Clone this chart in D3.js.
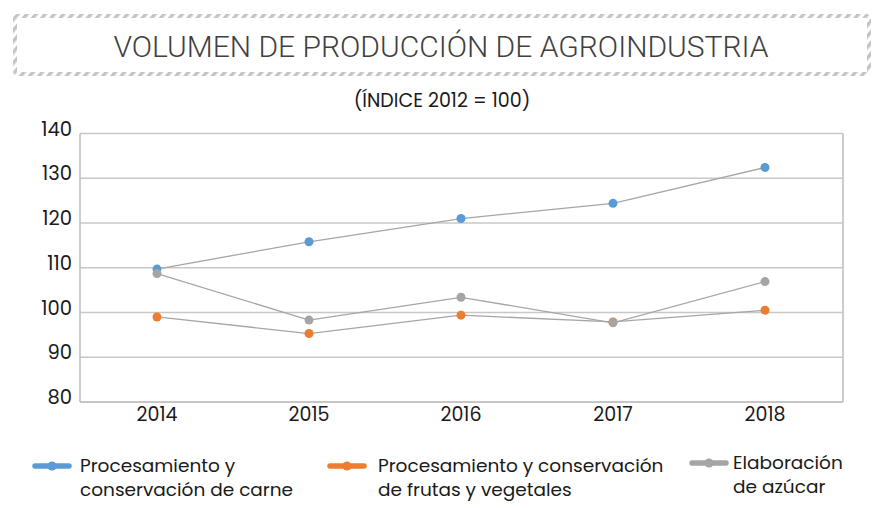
<!DOCTYPE html>
<html>
<head>
<meta charset="utf-8">
<style>
  body { margin: 0; background: #fff; }
  text { font-family: "Poppins", "Inter", "Lato", sans-serif; fill: #1a1a1a; }
  .title { font-family: "Roboto", "Lato", sans-serif; font-weight: 300; fill: #404040; }
</style>
<script src="https://d3js.org/d3.v7.min.js"></script>
</head>
<body>
<svg width="882" height="508"></svg>
<script>
var years = ["2014", "2015", "2016", "2017", "2018"];
var carne = [109.7, 115.8, 121.0, 124.4, 132.4];
var frutas = [99.0, 95.3, 99.4, 97.9, 100.5];
var azucar = [108.7, 98.3, 103.4, 97.7, 106.9];
var yTicks = [80, 90, 100, 110, 120, 130, 140];

var series = [
  {name: ["Procesamiento y", "conservación de carne"], values: carne, color: "#5b9bd5"},
  {name: ["Procesamiento y conservación", "de frutas y vegetales"], values: frutas, color: "#ed7d31"},
  {name: ["Elaboración", "de azúcar"], values: azucar, color: "#a5a5a5"}
];

var svg = d3.select("svg");

// hatched title frame
var defs = svg.append("defs");
var pat = defs.append("pattern")
    .attr("id", "hatch")
    .attr("patternUnits", "userSpaceOnUse")
    .attr("width", 7).attr("height", 7)
    .attr("patternTransform", "rotate(40)");
pat.append("rect").attr("width", 3.5).attr("height", 7).attr("fill", "#c4c4c4");

svg.append("rect")
    .attr("x", 15).attr("y", 16)
    .attr("width", 854).attr("height", 58)
    .attr("rx", 3)
    .attr("fill", "none")
    .attr("stroke", "url(#hatch)")
    .attr("stroke-width", 4);

svg.append("text")
    .attr("class", "title")
    .attr("x", 441).attr("y", 57)
    .attr("text-anchor", "middle")
    .style("font-size", "30px")
    .text("VOLUMEN DE PRODUCCIÓN DE AGROINDUSTRIA");

svg.append("text")
    .attr("x", 442).attr("y", 107)
    .attr("text-anchor", "middle")
    .style("font-size", "19px")
    .text("(ÍNDICE 2012 = 100)");

var x = d3.scalePoint().domain(years).range([81, 841]).padding(0.5);
var y = d3.scaleLinear().domain([80, 140]).range([402, 133.5]);

var g = svg.append("g");

// gridlines
g.selectAll(".grid")
    .data(yTicks)
    .enter().append("line")
    .attr("x1", 80).attr("x2", 843)
    .attr("y1", function(d) { return y(d); })
    .attr("y2", function(d) { return y(d); })
    .attr("stroke", "#c8c8c8")
    .attr("stroke-width", 1.3);

// frame sides
g.append("line").attr("x1", 80).attr("x2", 80).attr("y1", y(140)).attr("y2", y(80))
    .attr("stroke", "#c0c0c0").attr("stroke-width", 1.6);
g.append("line").attr("x1", 843).attr("x2", 843).attr("y1", y(140)).attr("y2", y(80))
    .attr("stroke", "#c0c0c0").attr("stroke-width", 1.6);
g.append("line").attr("x1", 80).attr("x2", 843).attr("y1", y(80)).attr("y2", y(80))
    .attr("stroke", "#c0c0c0").attr("stroke-width", 1.6);

// y labels
g.selectAll(".ylab")
    .data(yTicks)
    .enter().append("text")
    .attr("x", 72)
    .attr("y", function(d) { return y(d) + 2; })
    .attr("text-anchor", "end")
    .style("font-size", "19.5px")
    .text(function(d) { return d; });

// x labels
g.selectAll(".xlab")
    .data(years)
    .enter().append("text")
    .attr("x", function(d) { return x(d); })
    .attr("y", 421)
    .attr("text-anchor", "middle")
    .style("font-size", "19px")
    .text(function(d) { return d; });

var line = d3.line()
    .x(function(d, i) { return x(years[i]); })
    .y(function(d) { return y(d); });

series.forEach(function(s) {
  g.append("path")
      .datum(s.values)
      .attr("d", line)
      .attr("fill", "none")
      .attr("stroke", "#a6a6a6")
      .attr("stroke-width", 1.3);
});

// markers: blue, orange, then gray on top
series.forEach(function(s) {
  g.selectAll(null)
      .data(s.values)
      .enter().append("circle")
      .attr("cx", function(d, i) { return x(years[i]); })
      .attr("cy", function(d) { return y(d); })
      .attr("r", 4.5)
      .attr("fill", s.color);
});

// legend
var legX = [35, 330, 692];
var legY = [466, 466, 463];
series.forEach(function(s, i) {
  var lg = svg.append("g").attr("transform", "translate(" + legX[i] + "," + legY[i] + ")");
  lg.append("line").attr("x1", 0).attr("x2", 34).attr("y1", 0).attr("y2", 0)
      .attr("stroke", s.color).attr("stroke-width", 5.5).attr("stroke-linecap", "round");
  lg.append("circle").attr("cx", 17).attr("cy", 0).attr("r", 4.5).attr("fill", s.color);
  s.name.forEach(function(t, j) {
    lg.append("text")
        .attr("x", legX[i] === 692 ? 41 : (legX[i] === 330 ? 48 : 45))
        .attr("y", 6 + j * 24)
        .style("font-size", "18.5px")
        .text(t);
  });
});
</script>
</body>
</html>
